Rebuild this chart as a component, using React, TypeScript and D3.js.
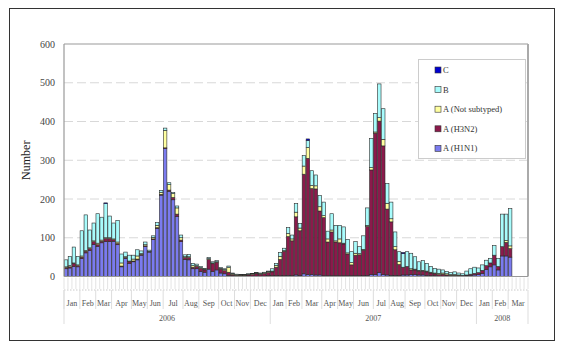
import React from "react";
import * as d3 from "d3";

// ---------- data (weekly counts, Jan 2006 – Mar 2008) ----------
const years = ["2006", "2007", "2008"];
const monthLabels = ["Jan", "Feb", "Mar", "Apr", "May", "Jun", "Jul", "Aug", "Sep", "Oct", "Nov", "Dec"];
const weeksPerMonth2006 = [4, 4, 4, 5, 4, 4, 5, 4, 5, 4, 4, 5];
const weeksPerMonth2007 = [4, 4, 5, 4, 4, 5, 4, 4, 5, 4, 4, 5];
const weeksPerMonth2008 = [4, 4, 5];

const h1n1 = [
  20, 22, 26, 25, 46, 61, 67, 83, 78, 87, 90, 90, 91, 82, 25, 47, 34, 38, 43, 55, 77, 63, 95, 124, 210, 330, 220, 198, 155, 90, 44, 43, 20, 20, 13, 11, 19, 13, 17, 9, 7, 3, 2, 1, 1, 1, 1, 1, 1, 1, 1, 2,
  2, 2, 2, 2, 3, 2, 4, 3, 7, 5, 5, 4, 4, 2, 2, 2, 2, 2, 2, 2, 2, 2, 2, 2, 3, 5, 5, 10, 5, 4, 3, 3, 2, 4, 4, 5, 5, 4, 4, 3, 2, 2, 1, 1, 1, 1, 1, 1, 1, 2, 3, 4,
  5, 8, 18, 25, 30, 17, 53, 53, 50, 0, 0, 0, 0,
];
const h3n2 = [
  3, 3, 7, 3, 4, 4, 5, 7, 4, 4, 8, 8, 4, 3, 2, 2, 4, 2, 2, 2, 2, 2, 2, 2, 2, 2, 3, 6, 6, 4, 5, 6, 4, 6, 8, 6, 25, 20, 20, 10, 8, 8, 3, 2, 2, 2, 3, 4, 6, 5, 7, 8,
  10, 22, 42, 63, 100, 90, 150, 115, 257, 300, 222, 222, 165, 150, 87, 113, 87, 85, 82, 56, 28, 53, 54, 66, 126, 270, 365, 391, 332, 170, 138, 66, 29, 20, 22, 12, 12, 10, 10, 9, 7, 5, 4, 5, 3, 2, 2, 2, 2, 2, 3, 4,
  5, 8, 10, 10, 25, 9, 24, 35, 22, 0, 0, 0, 0,
];
const aNotSubtyped = [
  2, 3, 2, 2, 3, 2, 2, 2, 4, 3, 2, 2, 2, 4, 8, 2, 2, 5, 8, 2, 3, 0, 4, 6, 5, 45, 14, 10, 16, 6, 2, 2, 4, 2, 2, 2, 2, 2, 1, 2, 3, 13, 2, 2, 1, 1, 2, 2, 2, 2, 2, 2,
  2, 5, 8, 2, 8, 5, 12, 7, 21, 28, 8, 8, 11, 5, 8, 5, 3, 10, 2, 3, 6, 5, 3, 2, 3, 6, 3, 9, 17, 15, 8, 8, 8, 0, 0, 3, 2, 2, 2, 2, 2, 2, 3, 3, 3, 2, 2, 1, 0, 0, 0, 0,
  0, 0, 0, 0, 0, 0, 0, 5, 7, 0, 0, 0, 0,
];
const typeB = [
  18, 24, 41, 22, 65, 92, 46, 46, 76, 59, 88, 56, 41, 56, 23, 12, 15, 10, 16, 7, 7, 3, 4, 7, 5, 6, 5, 3, 5, 7, 5, 6, 6, 4, 3, 2, 3, 3, 3, 2, 2, 3, 2, 1, 1, 1, 1, 1, 1, 1, 1, 2,
  6, 5, 10, 6, 15, 10, 22, 12, 27, 18, 38, 28, 29, 35, 20, 42, 40, 35, 42, 35, 28, 30, 18, 35, 45, 75, 48, 87, 79, 51, 43, 38, 25, 35, 38, 40, 32, 22, 25, 20, 15, 12, 11, 8, 6, 5, 7, 5, 4, 10, 14, 16,
  12, 14, 14, 12, 25, 21, 84, 68, 96, 0, 0, 0, 0,
];
const typeC = [
  0, 0, 0, 0, 0, 0, 0, 0, 0, 0, 2, 0, 0, 0, 0, 0, 0, 0, 0, 0, 0, 0, 0, 0, 0, 0, 0, 0, 0, 0, 0, 0, 0, 0, 0, 0, 0, 0, 0, 0, 0, 0, 0, 0, 0, 0, 0, 0, 0, 0, 0, 0,
  0, 0, 0, 0, 0, 0, 0, 0, 0, 4, 0, 0, 0, 0, 0, 0, 0, 0, 0, 0, 0, 0, 0, 0, 0, 0, 0, 0, 0, 0, 0, 0, 0, 3, 0, 0, 0, 0, 0, 0, 0, 0, 0, 0, 0, 0, 0, 0, 0, 0, 0, 0,
  0, 0, 0, 0, 0, 0, 0, 0, 0, 0, 0, 0, 0,
];
const yTicks = [0, 100, 200, 300, 400, 500, 600];

const seriesKeys = ["h1n1", "h3n2", "ans", "b", "c"];
const seriesNames: Record<string, string> = {
  c: "C",
  b: "B",
  ans: "A (Not subtyped)",
  h3n2: "A (H3N2)",
  h1n1: "A (H1N1)",
};
const seriesColors: Record<string, string> = {
  h1n1: "#7b7bef",
  h3n2: "#8b1a4b",
  ans: "#ffffa0",
  b: "#a8fcfc",
  c: "#0000d0",
};
const legendOrder = ["c", "b", "ans", "h3n2", "h1n1"];

export default function App() {
  const W = 562, H = 353;
  const x0 = 64, x1 = 528, yBase = 276.5, yTop = 44;
  const monthWeeks = [weeksPerMonth2006, weeksPerMonth2007, weeksPerMonth2008];
  const nWeeks = h1n1.length;
  const rows = d3.range(nWeeks).map((i) => ({
    idx: i,
    h1n1: h1n1[i],
    h3n2: h3n2[i],
    ans: aNotSubtyped[i],
    b: typeB[i],
    c: typeC[i],
  }));
  const x = d3.scaleBand<number>().domain(d3.range(nWeeks)).range([x0, x1]).paddingInner(0.12).paddingOuter(0.06);
  const step = (x1 - x0) / nWeeks;
  const y = d3.scaleLinear().domain([0, 600]).range([yBase, yTop]);
  const stacked = d3.stack<any>().keys(seriesKeys)(rows);

  // month and year boundaries in week indices
  const months: { label: string; start: number; end: number }[] = [];
  const yearsSpan: { label: string; start: number; end: number }[] = [];
  let w = 0;
  monthWeeks.forEach((arr, yi) => {
    const ys = w;
    arr.forEach((n, mi) => {
      months.push({ label: monthLabels[mi], start: w, end: w + n });
      w += n;
    });
    yearsSpan.push({ label: years[yi], start: ys, end: w });
  });
  const wx = (i: number) => x0 + i * step;

  const serif = "'Liberation Serif', 'Times New Roman', serif";

  return (
    <svg width={W} height={H} style={{ position: "absolute", left: 0, top: 0, background: "#fff" }} fontFamily={serif}>
      <rect x={0} y={0} width={W} height={H} fill="#fff" />
      {/* outer frame */}
      <rect x={9.5} y={8.5} width={545} height={332} fill="none" stroke="#333" strokeWidth={1} />

      {/* gridlines */}
      {yTicks.filter((t) => t > 0 && t < 600).map((t) => (
        <line key={t} x1={x0} x2={x1} y1={y(t)} y2={y(t)} stroke="#d8d8d8" strokeWidth={1} strokeDasharray="9,4" />
      ))}

      {/* bars */}
      {stacked.map((s) => (
        <g key={s.key} fill={seriesColors[s.key]} stroke="#2a2a2a" strokeWidth={0.6}>
          {s.map((d, i) =>
            d[1] - d[0] > 0 ? (
              <rect key={i} x={x(i)} y={y(d[1])} width={x.bandwidth()} height={y(d[0]) - y(d[1])} />
            ) : null
          )}
        </g>
      ))}

      {/* plot border */}
      <line x1={x0} x2={x0} y1={yTop} y2={yBase} stroke="#999" strokeWidth={1.2} />
      <line x1={x0} x2={x1} y1={yTop} y2={yTop} stroke="#999" strokeWidth={1.2} />
      <line x1={x1} x2={x1} y1={yTop} y2={yBase} stroke="#aaa" strokeWidth={2} />
      <line x1={x0} x2={x1} y1={yBase} y2={yBase} stroke="#999" strokeWidth={1} />

      {/* y tick labels */}
      {yTicks.map((t) => (
        <text key={t} x={55} y={y(t)} dy="0.35em" textAnchor="end" fontSize={10} fill="#444">
          {t}
        </text>
      ))}
      <text transform={`translate(30,${(yTop + yBase) / 2}) rotate(-90)`} textAnchor="middle" fontSize={12} fill="#222">
        Number
      </text>

      {/* week ticks below axis */}
      {d3.range(nWeeks + 1).map((i) => (
        <line key={i} x1={wx(i)} x2={wx(i)} y1={yBase + 1} y2={289} stroke="#dcdcdc" strokeWidth={0.8} />
      ))}
      <line x1={x0} x2={x1} y1={290} y2={290} stroke="#bbb" strokeWidth={0.8} strokeDasharray="1.5,1.5" />

      {/* month separators and labels */}
      {months.map((m, i) => (
        <g key={i}>
          <line x1={wx(m.start)} x2={wx(m.start)} y1={290} y2={309} stroke="#ddd" strokeWidth={1} />
          <text x={(wx(m.start) + wx(m.end)) / 2} y={306} textAnchor="middle" fontSize={8} fill="#555">
            {m.label}
          </text>
        </g>
      ))}
      <line x1={x1} x2={x1} y1={290} y2={324} stroke="#ddd" strokeWidth={1} />
      {/* year separators and labels */}
      {yearsSpan.map((yr, i) => (
        <g key={i}>
          <line x1={wx(yr.start)} x2={wx(yr.start)} y1={290} y2={324} stroke="#ddd" strokeWidth={1} />
          <text x={(wx(yr.start) + wx(yr.end)) / 2} y={321} textAnchor="middle" fontSize={8} fill="#555">
            {yr.label}
          </text>
        </g>
      ))}

      {/* legend */}
      <rect x={418.5} y={59.5} width={107} height={99} fill="#fff" stroke="#ccc" strokeWidth={1} />
      {legendOrder.map((k, i) => {
        const ly = 70 + i * 19.6;
        return (
          <g key={k}>
            <rect x={435} y={ly - 3} width={6} height={6} fill={seriesColors[k]} stroke="#333" strokeWidth={0.6} />
            <text x={443} y={ly} dy="0.35em" fontSize={8.5} fill="#333">
              {seriesNames[k]}
            </text>
          </g>
        );
      })}
    </svg>
  );
}
